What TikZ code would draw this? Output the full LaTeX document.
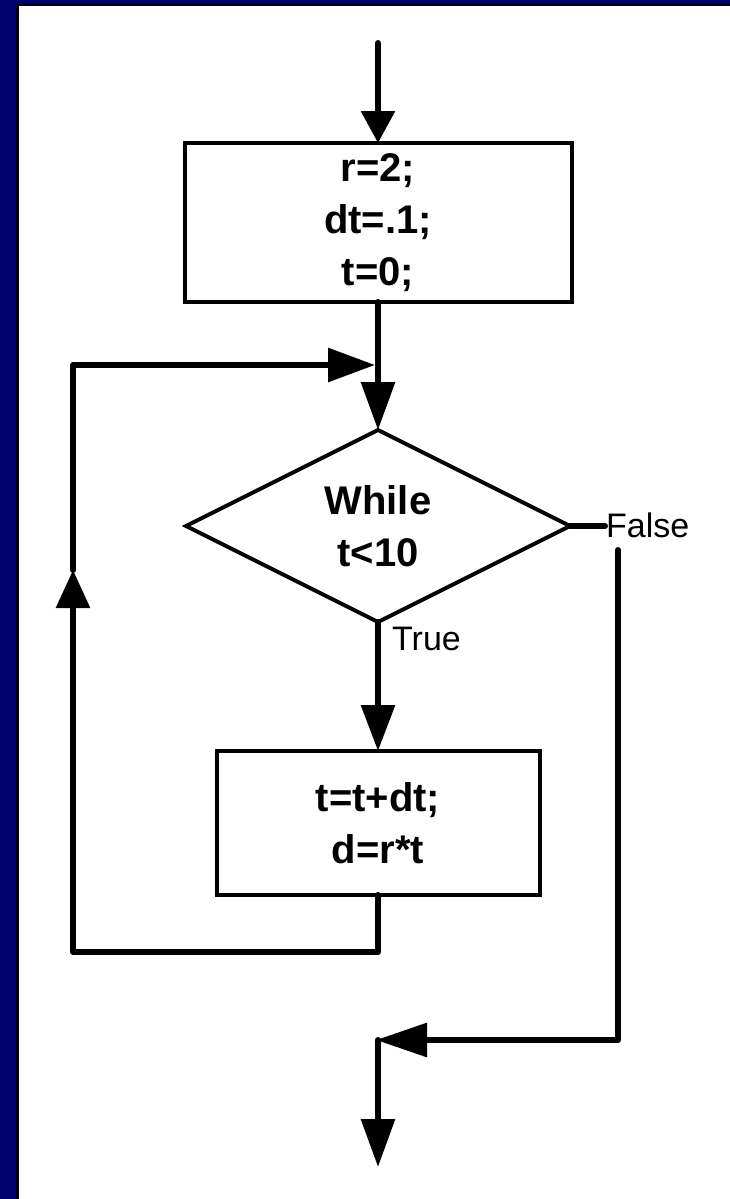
\documentclass[tikz,border=0pt]{standalone}
\usepackage{fontspec}
\setmainfont{Liberation Sans}
\usetikzlibrary{arrows.meta,shapes.geometric}
\definecolor{navy}{RGB}{0,0,108}
\begin{document}
\begin{tikzpicture}[x=1pt,y=-1pt,
  conn/.style={line width=6pt,line cap=round,line join=round},
  tri/.tip={Triangle[length=47pt,width=33pt]},
  procbox/.style={draw,line width=4pt,rectangle,outer sep=0pt,inner sep=0pt,
    font=\fontsize{40}{52}\selectfont\bfseries,align=center},
  decide/.style={draw,line width=4pt,diamond,aspect=2,outer sep=0pt,inner sep=0pt,
    minimum width=384pt,minimum height=192pt,
    font=\fontsize{40}{52}\selectfont\bfseries,align=center},
  lbl/.style={font=\fontsize{34}{40}\selectfont,inner sep=0pt}]
% frame
\useasboundingbox (0,0) rectangle (730,1199);
\fill[white] (0,0) rectangle (730,1199);
\fill[navy] (0,0) rectangle (730,4);
\fill[navy] (0,0) rectangle (15.5,1199);
\fill[black] (15.5,4) rectangle (730,6);
\fill[black] (15.5,4) rectangle (18.5,1199);
% nodes
\node[procbox,minimum width=387pt,minimum height=159pt] (init) at (378,222.5) {r=2;\\dt=.1;\\t=0;};
\node[decide] (cond) at (378,526) {While\\t<10};
\node[procbox,minimum width=323pt,minimum height=144pt] (body) at (378,823) {t=t+dt;\\d=r*t};
\node[lbl,anchor=base west] (false) at (606,537) {False};
\node[lbl,anchor=base west] (true) at (392,650) {True};
% coordinates
\coordinate (start) at (378,43);
\coordinate (fstub) at (605,526);
\coordinate (fa) at (618,550);
\coordinate (fb) at (618,1040);
\coordinate (merge) at (378,1040);
\coordinate (mergetip) at (376,1040);
\coordinate (finish) at (378,1167);
\coordinate (lb) at (73,952);
\coordinate (lm) at (73,570);
\coordinate (lt) at (73,365);
\coordinate (ljoin) at (375,365);
% connectors
\draw[conn,-{Triangle[length=32pt,width=33pt]}] (start) -- (init.north);
\draw[conn,-{Triangle[length=48pt,width=33pt]}] (init.south) -- (cond.north);
\draw[conn,-{Triangle[length=46pt,width=33pt]}] (cond.south) -- (body.north);
\draw[conn,-{Triangle[length=38pt,width=33pt]}] (body.south) |- (lb) -- (lm);
\draw[conn,-{tri}] (lm) -- (lt) -- (ljoin);
\draw[conn] (cond.east) -- (fstub);
\draw[conn,-{Triangle[length=51pt,width=33pt]}] (fa) -- (fb) -- (mergetip);
\draw[conn,-{Triangle[length=48pt,width=33pt]}] (merge) -- (finish);
\end{tikzpicture}
\end{document}
